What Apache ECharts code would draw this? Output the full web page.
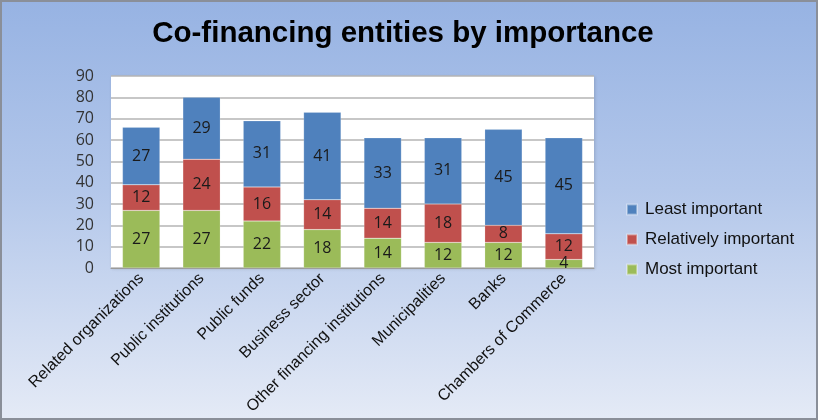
<!DOCTYPE html>
<html>
<head>
<meta charset="utf-8">
<script src="https://cdn.jsdelivr.net/npm/echarts@6/dist/echarts.min.js"></script>
<style>
  html, body { margin: 0; padding: 0; }
  #chart {
    width: 818px; height: 420px; box-sizing: border-box;
    border: 2px solid #8a8f99;
    background: linear-gradient(to bottom, #97b3e3 0%, #b3c7ea 45%, #e4eaf6 100%);
  }
</style>
</head>
<body>
<div id="chart"></div>
<script>
// Co-financing entities, counted by importance rating
const categories = [
  'Related organizations', 'Public institutions', 'Public funds', 'Business sector',
  'Other financing institutions', 'Municipalities', 'Banks', 'Chambers of Commerce'
];
const mostImportant       = [27, 27, 22, 18, 14, 12, 12, 4];
const relativelyImportant = [12, 24, 16, 14, 14, 18, 8, 12];
const leastImportant      = [27, 29, 31, 41, 33, 31, 45, 45];
const yTicks = [0, 10, 20, 30, 40, 50, 60, 70, 80, 90];

const chart = echarts.init(document.getElementById('chart'), null, { renderer: 'canvas' });

const labelStyle = {
  show: true, position: 'inside', color: '#1a1a1a',
  fontFamily: 'Open Sans', fontSize: 16
};

function barSeries(name, data, color) {
  return {
    name, type: 'bar', stack: 'total', data, barWidth: '62%',
    itemStyle: { color, borderColor: 'rgba(255,255,255,0.35)', borderWidth: 0.5 },
    label: labelStyle
  };
}

chart.setOption({
  backgroundColor: 'transparent',
  animation: false,
  title: {
    text: 'Co-financing entities by importance',
    top: 12, left: 396, textAlign: 'center',
    textStyle: { fontFamily: 'Liberation Sans', fontWeight: 'bold', fontSize: 29.5, color: '#000' }
  },
  grid: {
    left: 109, right: 222, top: 74, bottom: 150,
    show: true, backgroundColor: '#ffffff', borderWidth: 0,
    shadowColor: 'rgba(0,0,0,0.15)', shadowBlur: 3, shadowOffsetX: 1, shadowOffsetY: 1
  },
  legend: {
    orient: 'vertical', left: 624, top: 199, itemGap: 13, padding: 0,
    itemWidth: 10, itemHeight: 10, icon: 'rect',
    data: ['Least important', 'Relatively important', 'Most important'],
    textStyle: { fontFamily: 'Liberation Sans', fontSize: 17, color: '#111', padding: [0, 0, 0, 3] }
  },
  xAxis: {
    type: 'category', data: categories,
    axisTick: { show: false },
    axisLine: { lineStyle: { color: '#9a9a9a' } },
    axisLabel: {
      rotate: 45, interval: 0, margin: 8,
      fontFamily: 'Liberation Sans', fontSize: 16, color: '#111'
    }
  },
  yAxis: {
    type: 'value', min: yTicks[0], max: yTicks[yTicks.length - 1], interval: 10,
    axisLine: { show: false }, axisTick: { show: false },
    axisLabel: { fontFamily: 'Open Sans', fontSize: 16, color: '#333', margin: 17 },
    splitLine: { lineStyle: { color: '#b4b4b4', width: 1.5 } }
  },
  series: [
    barSeries('Most important', mostImportant, '#9bbb59'),
    barSeries('Relatively important', relativelyImportant, '#c0504d'),
    barSeries('Least important', leastImportant, '#4f81bd')
  ]
});
</script>
</body>
</html>
